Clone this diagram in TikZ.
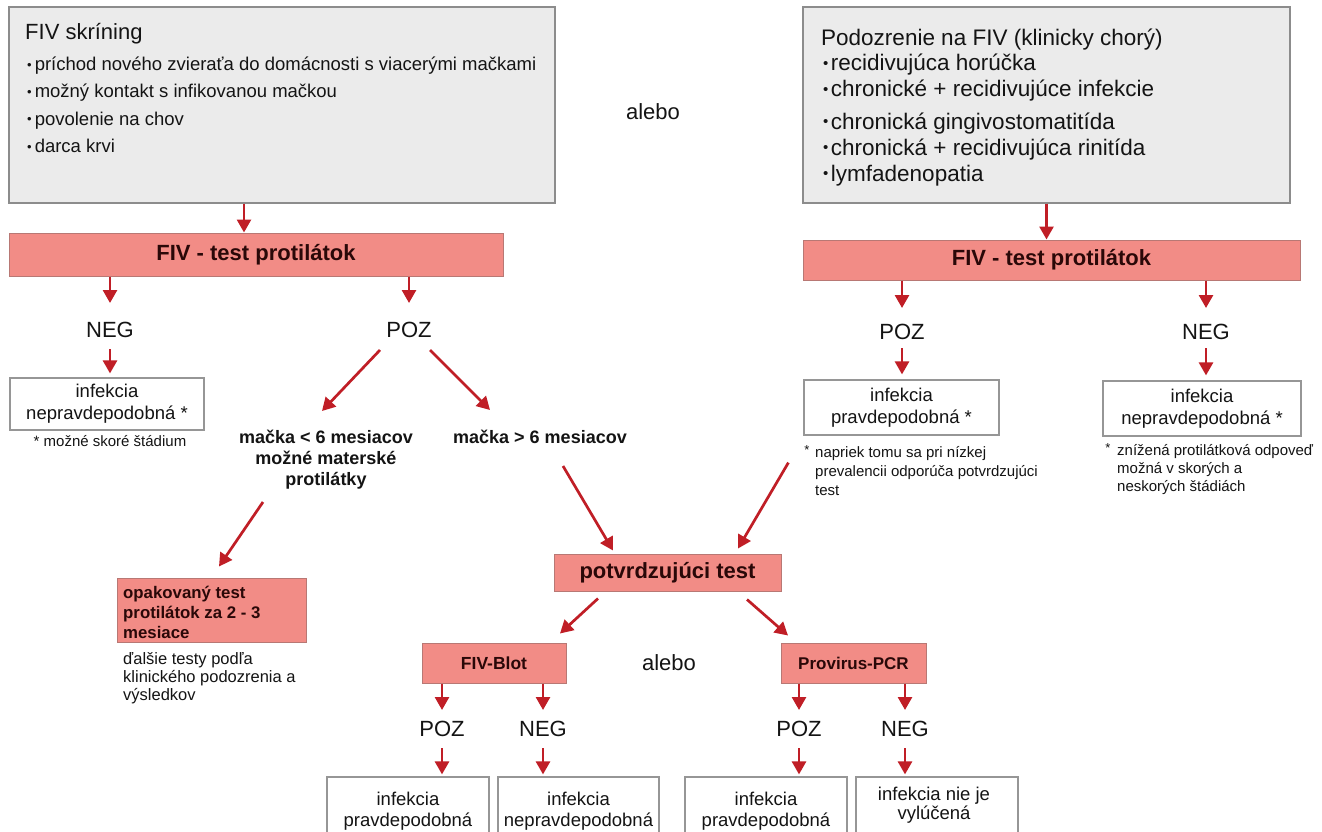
\documentclass[tikz,border=0pt]{standalone}
\usepackage{fontspec}
\setmainfont{Liberation Sans}
\usetikzlibrary{arrows.meta}
\definecolor{arrred}{RGB}{192,30,38}
\definecolor{pinkfill}{RGB}{242,140,134}
\definecolor{pinkdraw}{RGB}{184,120,116}
\definecolor{grayfill}{RGB}{235,235,235}
\definecolor{graydraw}{RGB}{140,140,140}
\definecolor{wdraw}{RGB}{150,150,150}
\definecolor{darktxt}{RGB}{42,8,8}
\definecolor{txt}{RGB}{20,20,20}
\newcommand{\fsz}[2]{\fontsize{#1pt}{#2pt}\selectfont}
\newcommand{\bul}{\raisebox{1.5pt}{\fsz{13}{13}•}\hspace{3pt}}
\newcommand{\bulR}{\raisebox{2pt}{\fsz{15}{15}•}\hspace{2.5pt}}
\tikzset{
 graybox/.style={draw=graydraw, fill=grayfill, line width=1.4pt, inner sep=0},
 pinkbox/.style={draw=pinkdraw, fill=pinkfill, line width=1pt, inner sep=0, text=darktxt},
 whitebox/.style={draw=wdraw, fill=white, line width=1.2pt, inner sep=0},
 txtn/.style={inner sep=0, text=txt},
 lbl/.style={txtn, font=\fsz{22}{26}},
 arr/.style={draw=arrred, line width=2.7pt, -{Triangle[length=13pt,width=14pt]}},
}
\begin{document}
\begin{tikzpicture}[x=1pt,y=-1pt]
\useasboundingbox (0,0) rectangle (1322,832);
\clip (0,0) rectangle (1322,832);
\fill[white] (0,0) rectangle (1322,832);

% ---------- top left box
\node[graybox, minimum width=546pt, minimum height=196pt] (g1) at (282,105) {};
\node[txtn, anchor=base west, font=\fsz{22}{26}] (g1t) at (25,40) {FIV skríning};
\node[txtn, anchor=base west, font=\fsz{18.5}{22}] (g1a) at (27,71) {\bul príchod nového zvieraťa do domácnosti s viacerými mačkami};
\node[txtn, anchor=base west, font=\fsz{18.5}{22}] (g1b) at (27,98) {\bul možný kontakt s infikovanou mačkou};
\node[txtn, anchor=base west, font=\fsz{18.5}{22}] (g1c) at (27,125) {\bul povolenie na chov};
\node[txtn, anchor=base west, font=\fsz{18.5}{22}] (g1d) at (27,153) {\bul darca krvi};

% ---------- top right box
\node[graybox, minimum width=487pt, minimum height=196pt] (g2) at (1046.5,105) {};
\node[txtn, anchor=base west, font=\fsz{22.5}{26}] (g2t) at (821,46) {Podozrenie na FIV (klinicky chorý)};
\node[txtn, anchor=base west, font=\fsz{22.5}{26}] (g2a) at (823,71) {\bulR recidivujúca horúčka};
\node[txtn, anchor=base west, font=\fsz{22.5}{26}] (g2b) at (823,97) {\bulR chronické + recidivujúce infekcie};
\node[txtn, anchor=base west, font=\fsz{22.5}{26}] (g2c) at (823,129) {\bulR chronická gingivostomatitída};
\node[txtn, anchor=base west, font=\fsz{22.5}{26}] (g2d) at (823,155) {\bulR chronická + recidivujúca rinitída};
\node[txtn, anchor=base west, font=\fsz{22.5}{26}] (g2e) at (823,181) {\bulR lymfadenopatia};

\node[lbl] (alebo1) at (653,112) {alebo};

% ---------- antibody tests
\node[pinkbox, minimum width=494pt, minimum height=43pt, font=\fsz{22}{26}\bfseries] (fivL) at (256,254.5) {FIV - test protilátok};
\node[pinkbox, minimum width=497pt, minimum height=40pt, font=\fsz{22}{26}\bfseries] (fivR) at (1051.5,260) {FIV - test protilátok};
\coordinate (a1) at ([xshift=-12pt]fivL.north);

% ---------- left branch
\node[lbl] (negL) at (110,330) {NEG};
\node[lbl] (pozL) at (409,330) {POZ};
\node[whitebox, minimum width=194pt, minimum height=52pt, align=center, font=\fsz{18.5}{22}, text=txt] (bL) at (107,404) {infekcia\\nepravdepodobná *};
\node[txtn, font=\fsz{15}{18}] (fL) at (110,441) {* možné skoré štádium};

\node[txtn, align=center, font=\fsz{18}{21}\bfseries, anchor=north] (m6a) at (326,430) {mačka < 6 mesiacov\\možné materské\\protilátky};
\node[txtn, font=\fsz{18}{21}\bfseries, anchor=base] (m6b) at (540,443) {mačka > 6 mesiacov};

\node[pinkbox, minimum width=189pt, minimum height=64pt] (opak) at (211.5,610) {};
\node[txtn, text=darktxt, anchor=base west, font=\fsz{16.8}{20}\bfseries] (op1) at (123,598) {opakovaný test};
\node[txtn, text=darktxt, anchor=base west, font=\fsz{16.8}{20}\bfseries] (op2) at (123,618) {protilátok za 2 - 3};
\node[txtn, text=darktxt, anchor=base west, font=\fsz{16.8}{20}\bfseries] (op3) at (123,638) {mesiace};
\node[txtn, anchor=base west, font=\fsz{16.5}{18}] (da1) at (123,664) {ďalšie testy podľa};
\node[txtn, anchor=base west, font=\fsz{16.5}{18}] (da2) at (123,682) {klinického podozrenia a};
\node[txtn, anchor=base west, font=\fsz{16.5}{18}] (da3) at (123,700) {výsledkov};

% ---------- right branch
\node[lbl] (pozR) at (902,332) {POZ};
\node[lbl] (negR) at (1206,332) {NEG};
\node[whitebox, minimum width=195pt, minimum height=55pt, align=center, font=\fsz{18.5}{22}, text=txt] (bR1) at (901.5,407.5) {infekcia\\pravdepodobná *};
\node[whitebox, minimum width=198pt, minimum height=55pt, align=center, font=\fsz{18.5}{22}, text=txt] (bR2) at (1202,408.5) {infekcia\\nepravdepodobná *};
\node[txtn, anchor=base, font=\fsz{13}{13}] (sR1) at (807,454) {*};
\node[txtn, anchor=base west, font=\fsz{15}{18}] (fR1a) at (815,457) {napriek tomu sa pri nízkej};
\node[txtn, anchor=base west, font=\fsz{15}{18}] (fR1b) at (815,476) {prevalencii odporúča potvrdzujúci};
\node[txtn, anchor=base west, font=\fsz{15}{18}] (fR1c) at (815,495) {test};
\node[txtn, anchor=base, font=\fsz{13}{13}] (sR2) at (1108,452) {*};
\node[txtn, anchor=base west, font=\fsz{15}{18}] (fR2a) at (1117,455) {znížená protilátková odpoveď};
\node[txtn, anchor=base west, font=\fsz{15}{18}] (fR2b) at (1117,473) {možná v skorých a};
\node[txtn, anchor=base west, font=\fsz{15}{18}] (fR2c) at (1117,491) {neskorých štádiách};

% ---------- confirmation
\node[pinkbox, minimum width=227pt, minimum height=37pt, font=\fsz{22}{26}\bfseries] (potv) at (667.5,572.5) {potvrdzujúci test};
\node[pinkbox, minimum width=144pt, minimum height=40pt, font=\fsz{17.5}{20}\bfseries] (blot) at (494,663) {FIV-Blot};
\node[pinkbox, minimum width=145pt, minimum height=40pt, font=\fsz{17}{20}\bfseries] (pcr) at (853.5,663) {Provirus-PCR};
\node[lbl] (alebo2) at (669,663) {alebo};

\node[lbl] (pB1) at (442,729) {POZ};
\node[lbl] (nB1) at (543,729) {NEG};
\node[lbl] (pB2) at (799,729) {POZ};
\node[lbl] (nB2) at (905,729) {NEG};

\node[whitebox, minimum width=162pt, minimum height=80pt] (bb1) at (408,817) {};
\node[whitebox, minimum width=161pt, minimum height=80pt] (bb2) at (578.5,817) {};
\node[whitebox, minimum width=162pt, minimum height=80pt] (bb3) at (766,817) {};
\node[whitebox, minimum width=162pt, minimum height=80pt] (bb4) at (937,817) {};
\node[txtn, anchor=base, font=\fsz{18.5}{20}] (bb1a) at (408,805) {infekcia};
\node[txtn, anchor=base, font=\fsz{18.5}{20}] (bb1b) at (408,826) {pravdepodobná};
\node[txtn, anchor=base, font=\fsz{18.5}{20}] (bb2a) at (578.5,805) {infekcia};
\node[txtn, anchor=base, font=\fsz{18.5}{20}] (bb2b) at (578.5,826) {nepravdepodobná};
\node[txtn, anchor=base, font=\fsz{18.5}{20}] (bb3a) at (766,805) {infekcia};
\node[txtn, anchor=base, font=\fsz{18.5}{20}] (bb3b) at (766,826) {pravdepodobná};
\node[txtn, anchor=base, font=\fsz{18.5}{20}] (bb4a) at (934,800) {infekcia nie je};
\node[txtn, anchor=base, font=\fsz{18.5}{20}] (bb4b) at (934,819) {vylúčená};

% ---------- connectors
\draw[arr] (g1.south -| a1) -- (a1);
\draw[arr] (g2.south) -- (g2.south |- fivR.north);

\draw[arr] (negL |- fivL.south) -- ([yshift=27pt]negL.center);
\draw[arr, shorten >=4pt] ([yshift=-19pt]negL.center) -- (negL |- bL.north);
\draw[arr] (pozL |- fivL.south) -- ([yshift=27pt]pozL.center);
\draw[arr] ([shift={(-29,20)}]pozL.center) -- ([shift={(-4,-19)}]m6a.north);
\draw[arr] ([shift={(21,20)}]pozL.center) -- ([shift={(-50,-33)}]m6b.base);
\draw[arr] ([shift={(-63,72)}]m6a.north) -- ([shift={(7.5,-11)}]opak.north);
\draw[arr] ([shift={(23,23)}]m6b.base) -- ([shift={(-54.5,-3)}]potv.north);

\draw[arr] (pozR |- fivR.south) -- ([yshift=24pt]pozR.center);
\draw[arr, shorten >=5pt] ([yshift=-16pt]pozR.center) -- (pozR |- bR1.north);
\draw[arr] (negR |- fivR.south) -- ([yshift=24pt]negR.center);
\draw[arr, shorten >=5pt] ([yshift=-16pt]negR.center) -- (negR |- bR2.north);
\draw[arr] ([shift={(-15,27)}]bR1.south west) -- ([shift={(70.5,-5)}]potv.north);

\draw[arr] ([shift={(-69.5,7)}]potv.south) -- ([shift={(66,-9)}]blot.north);
\draw[arr] ([shift={(79.5,8)}]potv.south) -- ([shift={(-65.5,-7)}]pcr.north);

\draw[arr] (pB1 |- blot.south) -- ([yshift=19pt]pB1.center);
\draw[arr] (nB1 |- blot.south) -- ([yshift=19pt]nB1.center);
\draw[arr] (pB2 |- pcr.south) -- ([yshift=19pt]pB2.center);
\draw[arr] (nB2 |- pcr.south) -- ([yshift=19pt]nB2.center);
\draw[arr, shorten >=2pt] ([yshift=-19pt]pB1.center) -- (pB1 |- bb1.north);
\draw[arr, shorten >=2pt] ([yshift=-19pt]nB1.center) -- (nB1 |- bb2.north);
\draw[arr, shorten >=2pt] ([yshift=-19pt]pB2.center) -- (pB2 |- bb3.north);
\draw[arr, shorten >=2pt] ([yshift=-19pt]nB2.center) -- (nB2 |- bb4.north);
\end{tikzpicture}
\end{document}
